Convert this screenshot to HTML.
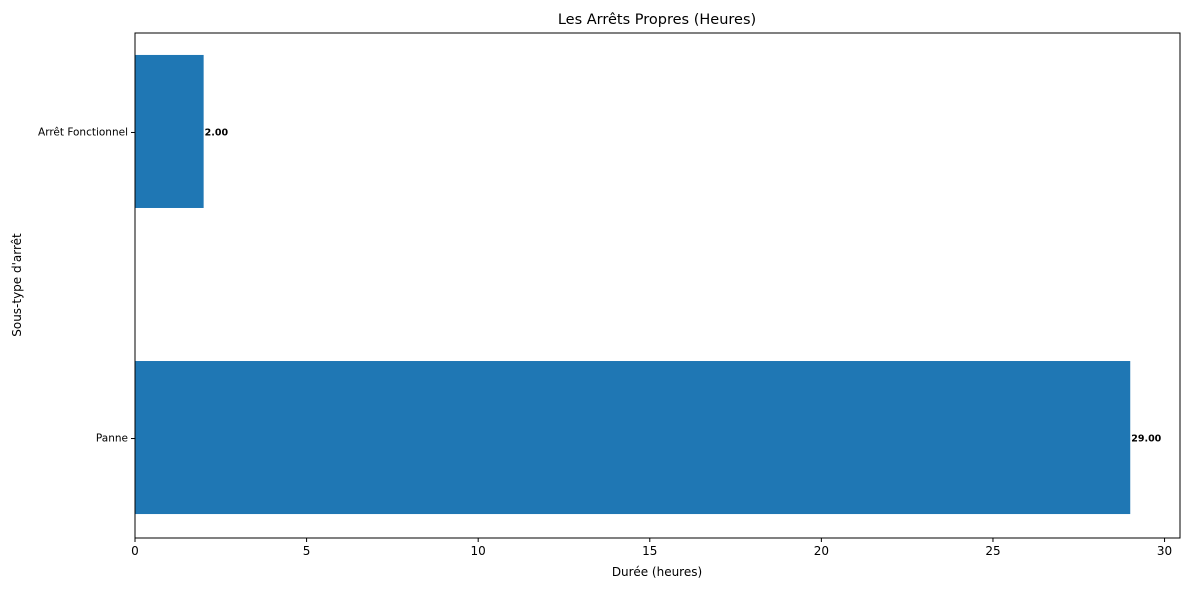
<!DOCTYPE html>
<html><head><meta charset="utf-8"><style>
body{margin:0;background:#fff;font-family:"Liberation Sans","DejaVu Sans",sans-serif;}
svg text{font-family:"DejaVu Sans","Liberation Sans",sans-serif;}
</style></head><body>
<svg id="chart" width="1189" height="590" xmlns="http://www.w3.org/2000/svg">
<text x="657" y="24" font-size="14.5" text-anchor="middle">Les Arrêts Propres (Heures)</text>
<text x="657" y="576" font-size="12" text-anchor="middle">Durée (heures)</text>
<text transform="translate(21,285) rotate(-90)" font-size="12" text-anchor="middle">Sous-type d'arrêt</text>
<g id="marks"></g>
<rect x="135" y="33" width="1045" height="505" fill="none" stroke="#000" stroke-width="1"/>
</svg>
<script>
const categories = ["Panne", "Arrêt Fonctionnel"];
const values = [29, 2];
const valueLabels = ["29.00", "2.00"];
const xTicks = [0, 5, 10, 15, 20, 25, 30];
const L=135,R=1180,T=33,B=538;
const xMax=Math.max(...values)*1.05;
const xs=v=>L+v/xMax*(R-L);
const yMin=-0.325,yMax=categories.length-1+0.325;
const ys=v=>B-(v-yMin)/(yMax-yMin)*(B-T);
const NS="http://www.w3.org/2000/svg";
const g=document.getElementById('marks');
function mk(t,a){const e=document.createElementNS(NS,t);for(const k in a)e.setAttribute(k,a[k]);g.appendChild(e);return e;}
categories.forEach((c,i)=>{
  const y0=ys(i+0.25)-1,y1=ys(i-0.25)-1;
  const r=mk('rect',{x:xs(0),y:y0,width:xs(values[i])-xs(0),height:y1-y0,fill:'#1f77b4'});
  
  
  const t=mk('text',{x:xs(values[i])+1,y:ys(i)+3,'font-size':'9.5','font-weight':'bold'});
  t.textContent=valueLabels[i];
  
  
  const tk=mk('line',{x1:L-4,x2:L,y1:ys(i),y2:ys(i),stroke:'#000'});
  
  
  const tl=mk('text',{x:L-7,y:ys(i)+3,'font-size':'10.5','text-anchor':'end'});
  tl.textContent=c;
  
  
});
xTicks.forEach((v,i)=>{
  const tk=mk('line',{x1:xs(v),x2:xs(v),y1:B,y2:B+4,stroke:'#000'});
  
  
  const tl=mk('text',{x:xs(v),y:B+17,'font-size':'12','text-anchor':'middle'});
  tl.textContent=v;
  
  
});
</script>
</body></html>
